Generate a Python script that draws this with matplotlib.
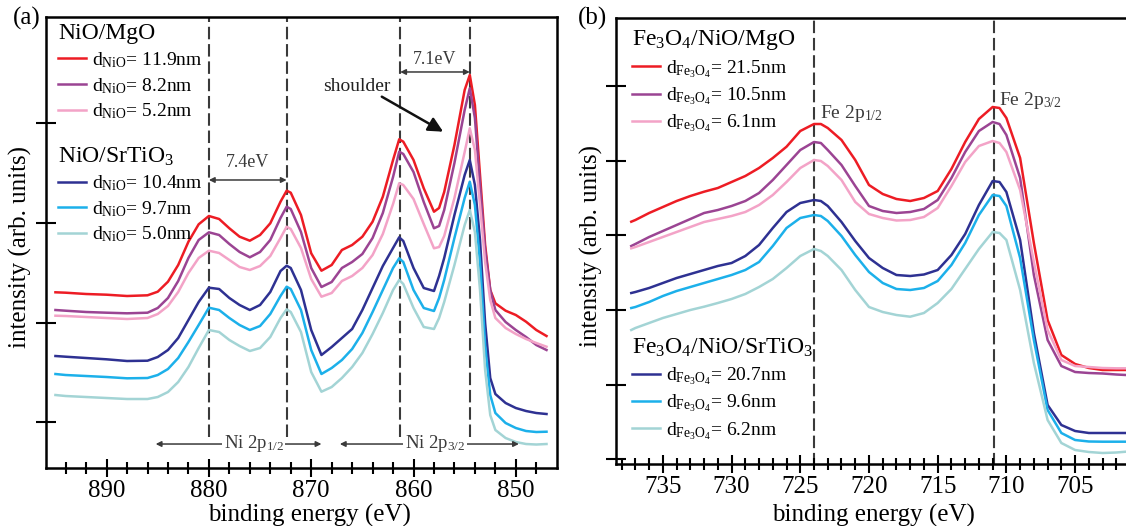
import numpy as np
import matplotlib
matplotlib.use('Agg')
import matplotlib.pyplot as plt

plt.rcParams['font.family'] = ['Liberation Serif', 'DejaVu Serif']
plt.rcParams['mathtext.fontset'] = 'custom'
plt.rcParams['mathtext.rm'] = 'Liberation Serif'
plt.rcParams['mathtext.it'] = 'Liberation Serif:italic'

# ---- (a) Ni 2p spectra (arb. units) ----
ni_energy = [895, 894, 892, 890, 888, 886, 885, 884, 883, 882, 881, 880, 879, 878, 877,
             876, 875, 874, 873, 872.4, 872, 871, 870, 869, 868, 867, 866, 865, 864, 863,
             862, 861.4, 861, 860, 859, 858, 857.5, 857, 856, 855, 854.5, 854, 853.5, 853,
             852.5, 852, 851, 850, 849, 848, 847]
ni_mgo_119 = [2.077, 2.073, 2.06, 2.053, 2.04, 2.047, 2.083, 2.183, 2.35, 2.583, 2.757, 2.84,
              2.81, 2.717, 2.633, 2.593, 2.65, 2.767, 2.983, 3.093, 3.073, 2.85, 2.467, 2.293,
              2.35, 2.5, 2.55, 2.633, 2.783, 3.033, 3.4, 3.607, 3.583, 3.4, 3.117, 2.883, 2.92,
              3.08, 3.55, 4.1, 4.25, 3.95, 3.25, 2.55, 2.1, 1.967, 1.893, 1.85, 1.783, 1.7, 1.64]
ni_mgo_82 = [1.9, 1.893, 1.88, 1.873, 1.867, 1.873, 1.92, 2.02, 2.19, 2.42, 2.6, 2.677, 2.65,
             2.56, 2.48, 2.427, 2.48, 2.6, 2.82, 2.933, 2.91, 2.68, 2.32, 2.13, 2.18, 2.32,
             2.38, 2.46, 2.62, 2.87, 3.23, 3.483, 3.46, 3.28, 2.98, 2.717, 2.74, 2.9, 3.37,
             3.9, 4.117, 3.82, 3.15, 2.5, 2.1, 1.9, 1.78, 1.7, 1.63, 1.55, 1.5]
ni_mgo_52 = [1.843, 1.84, 1.83, 1.82, 1.81, 1.82, 1.86, 1.94, 2.08, 2.27, 2.42, 2.493, 2.47,
             2.4, 2.33, 2.3, 2.34, 2.44, 2.62, 2.733, 2.71, 2.52, 2.21, 2.033, 2.07, 2.19,
             2.24, 2.32, 2.45, 2.66, 2.96, 3.167, 3.15, 3.01, 2.76, 2.517, 2.53, 2.64, 3.02,
             3.48, 3.717, 3.5, 2.95, 2.38, 2.0, 1.82, 1.72, 1.66, 1.61, 1.57, 1.533]
ni_sto_104 = [1.44, 1.433, 1.42, 1.407, 1.39, 1.393, 1.43, 1.5, 1.62, 1.8, 1.98, 2.123, 2.11,
              2.02, 1.95, 1.9, 1.95, 2.08, 2.29, 2.343, 2.32, 2.1, 1.7, 1.45, 1.53, 1.62,
              1.71, 1.9, 2.12, 2.34, 2.52, 2.627, 2.59, 2.32, 2.12, 2.09, 2.24, 2.42, 2.85,
              3.25, 3.4, 3.15, 2.6, 1.77, 1.22, 1.06, 0.97, 0.92, 0.89, 0.87, 0.86]
ni_sto_97 = [1.26, 1.25, 1.24, 1.23, 1.217, 1.22, 1.25, 1.31, 1.42, 1.58, 1.75, 1.923, 1.9,
             1.82, 1.75, 1.7, 1.74, 1.86, 2.04, 2.133, 2.11, 1.9, 1.5, 1.26, 1.32, 1.4, 1.51,
             1.67, 1.88, 2.1, 2.32, 2.417, 2.38, 2.1, 1.92, 1.89, 2.02, 2.2, 2.62, 3.02,
             3.183, 2.95, 2.38, 1.55, 1.05, 0.87, 0.77, 0.72, 0.69, 0.68, 0.683]
ni_sto_50 = [1.05, 1.04, 1.03, 1.02, 1.01, 1.01, 1.03, 1.08, 1.18, 1.33, 1.52, 1.7, 1.68, 1.6,
             1.54, 1.49, 1.52, 1.63, 1.82, 1.907, 1.88, 1.68, 1.28, 1.083, 1.13, 1.22, 1.33,
             1.47, 1.66, 1.87, 2.1, 2.2, 2.16, 1.92, 1.73, 1.71, 1.82, 1.98, 2.35, 2.75, 2.9,
             2.68, 2.1, 1.3, 0.85, 0.7, 0.62, 0.58, 0.56, 0.555, 0.56]
ni_peaks = [880.0, 872.4, 861.3, 854.5]

# ---- (b) Fe 2p spectra ----
fe_energy = [737.3, 737, 736, 735, 734, 733, 732, 731, 730, 729, 728, 727, 726, 725, 724,
             723.5, 723, 722, 721, 720, 719, 718, 717, 716, 715, 714, 713, 712, 711, 710.5,
             710, 709, 708, 707, 706, 705, 704, 703, 702, 701.3]
fe_mgo_215 = [2.783, 2.8, 2.87, 2.93, 2.99, 3.04, 3.083, 3.12, 3.18, 3.24, 3.32, 3.42, 3.533,
              3.69, 3.76, 3.76, 3.72, 3.6, 3.4, 3.15, 3.06, 3.01, 2.99, 3.02, 3.09, 3.31,
              3.58, 3.81, 3.93, 3.92, 3.82, 3.42, 2.57, 1.8, 1.45, 1.36, 1.32, 1.3, 1.3, 1.3]
fe_mgo_105 = [2.54, 2.56, 2.63, 2.69, 2.75, 2.81, 2.87, 2.9, 2.94, 2.99, 3.07, 3.2, 3.35, 3.5,
              3.58, 3.57, 3.5, 3.35, 3.14, 2.94, 2.89, 2.87, 2.88, 2.91, 3.0, 3.22, 3.48,
              3.69, 3.78, 3.76, 3.65, 3.22, 2.25, 1.6, 1.34, 1.28, 1.27, 1.265, 1.255, 1.25]
fe_mgo_61 = [2.517, 2.53, 2.58, 2.63, 2.68, 2.73, 2.78, 2.81, 2.84, 2.88, 2.95, 3.05, 3.18,
             3.32, 3.4, 3.39, 3.34, 3.2, 2.98, 2.86, 2.82, 2.795, 2.8, 2.83, 2.92, 3.14, 3.38,
             3.54, 3.59, 3.57, 3.48, 3.1, 2.38, 1.7, 1.4, 1.34, 1.33, 1.32, 1.317, 1.317]
fe_sto_207 = [2.07, 2.08, 2.12, 2.17, 2.22, 2.26, 2.3, 2.34, 2.37, 2.44, 2.55, 2.72, 2.88,
              2.97, 3.0, 2.99, 2.94, 2.78, 2.59, 2.42, 2.32, 2.25, 2.24, 2.255, 2.3, 2.45,
              2.66, 2.95, 3.19, 3.18, 3.08, 2.6, 1.67, 0.95, 0.75, 0.69, 0.67, 0.67, 0.67, 0.67]
fe_sto_96 = [1.92, 1.93, 1.98, 2.04, 2.09, 2.13, 2.17, 2.21, 2.25, 2.3, 2.38, 2.54, 2.72, 2.82,
             2.85, 2.84, 2.79, 2.64, 2.45, 2.28, 2.17, 2.11, 2.1, 2.12, 2.19, 2.35, 2.57,
             2.85, 3.05, 3.04, 2.94, 2.42, 1.6, 0.9, 0.67, 0.6, 0.585, 0.583, 0.583, 0.583]
fe_sto_62 = [1.7, 1.72, 1.77, 1.82, 1.86, 1.9, 1.933, 1.97, 2.01, 2.06, 2.13, 2.21, 2.32, 2.44,
             2.51, 2.49, 2.44, 2.3, 2.1, 1.93, 1.88, 1.85, 1.833, 1.87, 1.97, 2.11, 2.31,
             2.51, 2.68, 2.67, 2.6, 2.1, 1.37, 0.8, 0.57, 0.5, 0.48, 0.47, 0.475, 0.483]
fe_peaks = [724.0, 710.9]

ni_mgo_labels = ['11.9', '8.2', '5.2']
ni_sto_labels = ['10.4', '9.7', '5.0']
fe_mgo_labels = ['21.5', '10.5', '6.1']
fe_sto_labels = ['20.7', '9.6', '6.2']

colors = ['#ed1c24', '#9b4493', '#f3a3c7', '#2e3192', '#1cb0ea', '#a3d4d5']
gray = '#3a3a3a'

fig = plt.figure(figsize=(11.26, 5.26), dpi=100)
axa = fig.add_axes([0.0406, 0.1108, 0.4543, 0.8575])
axb = fig.add_axes([0.5472, 0.1173, 0.4564, 0.8479])

dash = (0, (6, 2.3))

# panel (a)
axa.vlines(ni_peaks, 0.63, 5, colors=gray, linestyles=dash, lw=1.5, zorder=1)
ni_series = [ni_mgo_119, ni_mgo_82, ni_mgo_52, ni_sto_104, ni_sto_97, ni_sto_50]
la = []
for s, c in zip(ni_series, colors):
    ln, = axa.plot(ni_energy, s, color=c, lw=1.8, zorder=2)
    la.append(ln)
axa.set_xlim(895.95, 845.95)
axa.set_ylim(0.323, 4.833)

# panel (b)
axb.vlines(fe_peaks, 0, 5, colors=gray, linestyles=dash, lw=1.5, zorder=1)
fe_series = [fe_mgo_215, fe_mgo_105, fe_mgo_61, fe_sto_207, fe_sto_96, fe_sto_62]
lb = []
for s, c in zip(fe_series, colors):
    ln, = axb.plot(fe_energy, s, color=c, lw=1.8, zorder=2)
    lb.append(ln)
axb.set_xlim(738.4, 701.0)
axb.set_ylim(0.357, 4.817)

for ax in (axa, axb):
    for sp in ax.spines.values():
        sp.set_linewidth(1.8)
    ax.tick_params(axis='x', which='major', direction='inout', length=13, width=1.5,
                   labelsize=18, pad=2, top=False)
    ax.tick_params(axis='x', which='minor', direction='inout', length=8, width=1.5, top=False)
    ax.tick_params(axis='y', direction='inout', length=14, width=1.5, labelleft=False,
                   right=False)
    ax.set_xlabel('binding energy (eV)', fontsize=18)
    ax.set_ylabel('intensity (arb. units)', fontsize=18)

axa.set_xticks(np.arange(850, 891, 10))
axa.set_xticks(np.arange(848, 896, 2), minor=True)
axa.set_yticks(0.78 + 0.995 * np.arange(4))
axb.set_xticks(np.arange(705, 736, 5))
axb.set_xticks(np.arange(702, 739, 1), minor=True)
axb.set_yticks(0.407 + 0.7466 * np.arange(6))
axb.spines['right'].set_visible(False)

axa.xaxis.set_label_coords(0.515, -0.08)
axb.xaxis.set_label_coords(0.5, -0.088)
axa.yaxis.set_label_coords(-0.026, 0.49)
axb.yaxis.set_label_coords(-0.025, 0.49)

# legends
leg_kw = dict(frameon=False, fontsize=14, title_fontsize=17, handlelength=1.45,
              handletextpad=0.3, labelspacing=0.3, borderaxespad=0, borderpad=0,
              alignment='left', loc='upper left')
l1 = axa.legend(la[:3], [r'd$_\mathregular{NiO}$= %snm' % v for v in ni_mgo_labels],
                title='NiO/MgO', bbox_to_anchor=(0.024, 0.985), **leg_kw)
axa.add_artist(l1)
axa.legend(la[3:], [r'd$_\mathregular{NiO}$= %snm' % v for v in ni_sto_labels],
           title=r'NiO/SrTiO$_\mathregular{3}$', bbox_to_anchor=(0.024, 0.715), **leg_kw)

fe = r'd$_\mathregular{Fe_3O_4}$= %snm'
l2 = axb.legend(lb[:3], [fe % v for v in fe_mgo_labels],
                title=r'Fe$_\mathregular{3}$O$_\mathregular{4}$/NiO/MgO',
                bbox_to_anchor=(0.03, 0.978), **leg_kw)
axb.add_artist(l2)
axb.legend(lb[3:], [fe % v for v in fe_sto_labels],
           title=r'Fe$_\mathregular{3}$O$_\mathregular{4}$/NiO/SrTiO$_\mathregular{3}$',
           bbox_to_anchor=(0.03, 0.285), **leg_kw)

# annotations (a)
arr = dict(arrowstyle='<|-|>', color=gray, lw=1.1, shrinkA=0, shrinkB=0, mutation_scale=8)
axa.annotate('', xy=(ni_peaks[1], 3.2), xytext=(ni_peaks[0], 3.2), arrowprops=arr)
axa.text(876.2, 3.37, '7.4eV', fontsize=13, color=gray, ha='center', va='center')
axa.annotate('', xy=(ni_peaks[3], 4.28), xytext=(ni_peaks[2], 4.28), arrowprops=arr)
axa.text(857.9, 4.40, '7.1eV', fontsize=13, color=gray, ha='center', va='center')
axa.annotate('', xy=(857.1, 3.683), xytext=(863.1, 4.033),
             arrowprops=dict(arrowstyle='-|>', color='#111111', lw=1.8, shrinkA=0,
                             shrinkB=0, mutation_scale=22))
axa.text(865.5, 4.13, 'shoulder', fontsize=14, color='#222222', ha='center', va='center')
axa.annotate('', xy=(869.0, 0.56), xytext=(885.2, 0.56), arrowprops=arr)
axa.annotate('', xy=(849.7, 0.56), xytext=(867.2, 0.56), arrowprops=arr)
bb = dict(facecolor='white', edgecolor='none', pad=1)
axa.text(875.6, 0.565, r'Ni 2p$_\mathregular{1/2}$', fontsize=13.5, color=gray,
         ha='center', va='center', bbox=bb, zorder=3)
axa.text(857.9, 0.565, r'Ni 2p$_\mathregular{3/2}$', fontsize=13.5, color=gray,
         ha='center', va='center', bbox=bb, zorder=3)

# annotations (b)
axb.text(723.56, 3.87, r'Fe 2p$_\mathregular{1/2}$', fontsize=14, color=gray,
         ha='left', va='center')
axb.text(710.54, 4.0, r'Fe 2p$_\mathregular{3/2}$', fontsize=14, color=gray,
         ha='left', va='center')

fig.text(13 / 1126, 1 - 18 / 526, '(a)', fontsize=18, va='center', ha='left')
fig.text(578 / 1126, 1 - 18 / 526, '(b)', fontsize=18, va='center', ha='left')

fig.savefig('out.png', dpi=100)
